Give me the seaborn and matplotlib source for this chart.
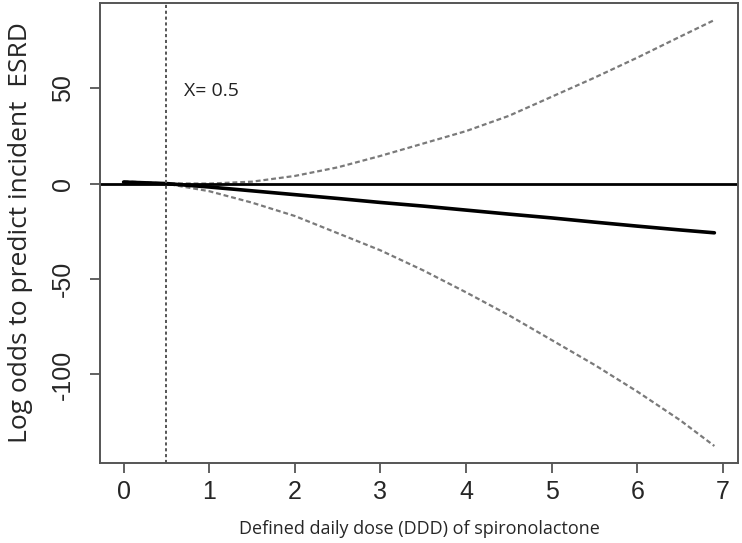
import numpy as np
import pandas as pd
import matplotlib
matplotlib.use("Agg")
import matplotlib.pyplot as plt
import seaborn as sns

# Values
ddd = [0.0, 0.5, 1.0, 1.5, 2.0, 2.5, 3.0, 3.5, 4.0, 4.5, 5.0, 5.5, 6.0, 6.5, 6.9]
log_odds = [0.8, 0.0, -1.8, -3.8, -5.8, -7.8, -9.9, -11.8, -13.9, -16.0, -18.0, -20.2, -22.3, -24.3, -25.8]
upper_ci = [1.2, 0.1, 0.0, 1.0, 4.0, 8.5, 14.5, 21.0, 27.5, 35.5, 45.5, 55.5, 66.0, 77.0, 85.7]
lower_ci = [0.4, -0.1, -4.0, -10.0, -17.0, -26.0, -35.0, -45.5, -57.0, -69.0, -82.0, -95.0, -109.0, -124.0, -137.5]
cutoff = 0.5
x_ticks = [0, 1, 2, 3, 4, 5, 6, 7]
y_ticks = [-100, -50, 0, 50]

sns.set_style("white")
plt.rcParams["font.family"] = ["Liberation Sans", "DejaVu Sans"]

df = pd.DataFrame({"ddd": ddd, "fit": log_odds, "upper": upper_ci, "lower": lower_ci})

fig = plt.figure(figsize=(7.42, 5.43), dpi=100)
ax = fig.add_axes([100 / 742, 80 / 543, 638 / 742, 460 / 543])

# confidence bands (dashed grey)
sns.lineplot(data=df, x="ddd", y="upper", ax=ax, color="#7a7a7a", lw=1.6,
             linestyle=(0, (2.2, 1.3)))
sns.lineplot(data=df, x="ddd", y="lower", ax=ax, color="#7a7a7a", lw=1.6,
             linestyle=(0, (2.2, 1.3)))
# reference line at zero and fitted curve
ax.axhline(0, color="black", lw=2.0)
sns.lineplot(data=df, x="ddd", y="fit", ax=ax, color="black", lw=2.6)
# cut-off marker
ax.axvline(cutoff, color="#555555", lw=1.4, linestyle=(0, (1.6, 1.4)))
ax.text(0.70, 48.5, f"X= {cutoff}", fontsize=14, family=["Open Sans", "DejaVu Sans"],
        ha="left", va="center", color="#222222")

# R-like range: data range extended 4 %
lo, hi = min(lower_ci), max(upper_ci)
pad = 0.04 * (hi - lo)
ax.set_ylim(lo - pad, hi + pad)
xpad = 0.04 * (max(ddd) - min(ddd))
ax.set_xlim(min(ddd) - xpad, max(ddd) + xpad)

ax.set_xticks(x_ticks)
ax.set_yticks(y_ticks)
ax.set_xticklabels([str(t) for t in x_ticks], fontsize=18)
ax.set_yticklabels([str(t) for t in y_ticks], fontsize=18, rotation=90, va="center")
ax.tick_params(axis="both", direction="out", length=7, width=1.3, color="#555555",
               bottom=True, left=True)
ax.tick_params(axis="x", pad=5)
ax.tick_params(axis="y", pad=11)

for s in ax.spines.values():
    s.set_color("#555555")
    s.set_linewidth(1.4)

ax.set_xlabel("Defined daily dose (DDD) of spironolactone", fontsize=13,
              family=["Open Sans", "DejaVu Sans"], labelpad=12)
ax.set_ylabel("Log odds to predict incident  ESRD", fontsize=19,
              family=["Open Sans", "DejaVu Sans"], labelpad=13)

fig.savefig("out.png", dpi=100)
